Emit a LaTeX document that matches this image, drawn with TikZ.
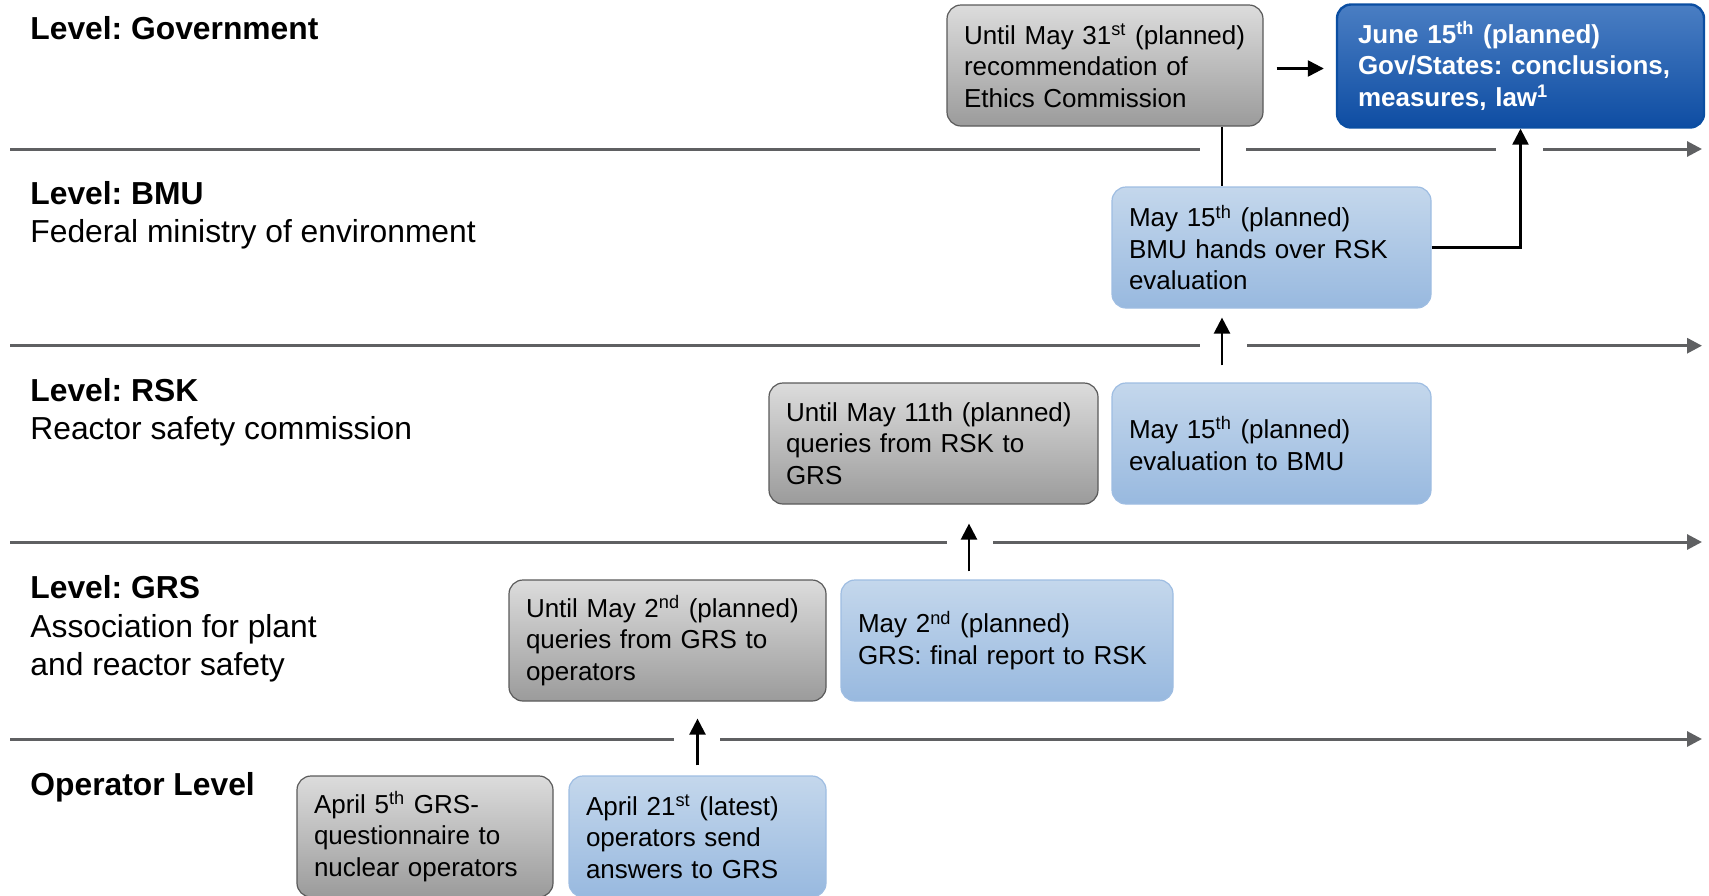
\documentclass[tikz,border=0pt]{standalone}
\usepackage{fontspec}
\setmainfont{Liberation Sans}
\usetikzlibrary{arrows.meta}
\frenchspacing

\definecolor{lineGray}{HTML}{5F6062}
\definecolor{boxGrayTop}{HTML}{DCDCDC}
\definecolor{boxGrayBot}{HTML}{9B9B9B}
\definecolor{boxGrayRim}{HTML}{5A5A5A}
\definecolor{boxBlueTop}{HTML}{C4D7EC}
\definecolor{boxBlueBot}{HTML}{98B9DF}
\definecolor{boxBlueRim}{HTML}{9EBDE2}
\definecolor{govTop}{HTML}{4A7EC3}
\definecolor{govBot}{HTML}{0E4DA3}
\definecolor{govRim}{HTML}{0B4EA2}

\newcommand{\boxfont}{\fontsize{13}{15.8}\selectfont}
\newcommand{\lvlfont}{\fontsize{15.9}{19}\selectfont}
\newcommand{\sfx}[1]{\textsuperscript{#1}}

\tikzset{
  stage/.style={rounded corners=7pt, minimum height=60.5pt, inner xsep=8.5pt, inner ysep=0pt, align=left, font=\boxfont, text=black},
  grayStage/.style={stage, draw=boxGrayRim, line width=0.6pt, top color=boxGrayTop, bottom color=boxGrayBot},
  blueStage/.style={stage, draw=boxBlueRim, line width=0.6pt, top color=boxBlueTop, bottom color=boxBlueBot},
  govStage/.style={stage, draw=govRim, line width=1.2pt, top color=govTop, bottom color=govBot, text=white, font=\boxfont\bfseries, inner xsep=10.5pt},
  lvl/.style={anchor=base west, font=\lvlfont, inner sep=0pt},
  lvlHead/.style={lvl, font=\lvlfont\bfseries},
  timeline/.style={draw=lineGray, line width=1.5pt},
  flow/.style={draw=black, line width=1.2pt, -{Triangle[length=8pt,width=8pt]}}
}

\begin{document}
\begin{tikzpicture}[x=0.5pt,y=-0.5pt]
	%%%%% START %%%%%
	\useasboundingbox (0,0) rectangle (1709,895);
	
	% level separators
	\draw[timeline] (10,149) -- (1200,149);
	\draw[timeline] (1246,149) -- (1496,149);
	\draw[timeline,-{Triangle[length=7.5pt,width=7.5pt]}] (1543,149) -- (1702,149);
	\draw[timeline] (10,345.7) -- (1200,345.7);
	\draw[timeline,-{Triangle[length=7.5pt,width=7.5pt]}] (1247,345.7) -- (1702,345.7);
	\draw[timeline] (10,542) -- (947,542);
	\draw[timeline,-{Triangle[length=7.5pt,width=7.5pt]}] (993,542) -- (1702,542);
	\draw[timeline] (10,739) -- (674,739);
	\draw[timeline,-{Triangle[length=7.5pt,width=7.5pt]}] (720,739) -- (1702,739);
	
	% level names
	\node[lvlHead] (govLbl) at (30,39.3) {Level: Government};
	\node[lvlHead] (bmuLbl) at (30,204) {Level: BMU};
	\node[lvl] (bmuTxt) at (30,242) {Federal ministry of environment};
	\node[lvlHead] (rskLbl) at (30,401.7) {Level: RSK};
	\node[lvl] (rskTxt) at (30,439.3) {Reactor safety commission};
	\node[lvlHead] (grsLbl) at (30,598) {Level: GRS};
	\node[lvl] (grsTxt) at (30,637) {Association for plant};
	\node[lvl] (grsTxtB) at (30,675) {and reactor safety};
	\node[lvlHead] (opLbl) at (30,795) {Operator Level};
	
	% stages
	\node[grayStage, text width=141pt] (ethics) at (1105,65.5) {Until May 31\sfx{st} (planned)\\recommendation of\\Ethics Commission};
	\node[govStage, text width=162.5pt, minimum height=61.5pt] (june) at (1520.5,66) {June 15\sfx{th} (planned)\\Gov/States: conclusions,\\measures, law\sfx{1}};
	\node[blueStage, text width=142.5pt] (bmu) at (1271.5,247.5) {May 15\sfx{th} (planned)\\BMU hands over RSK\\evaluation};
	\node[grayStage, text width=147.5pt] (rskG) at (933.5,443.5) {Until May 11th (planned)\\queries from RSK to\\GRS};
	\node[blueStage, text width=142.5pt] (rskB) at (1271.5,443.5) {May 15\sfx{th} (planned)\\evaluation to BMU};
	\node[grayStage, text width=141.5pt] (grsG) at (667.5,640.5) {Until May 2\sfx{nd} (planned)\\queries from GRS to\\operators};
	\node[blueStage, text width=149pt] (grsB) at (1007,640.5) {May 2\sfx{nd} (planned)\\GRS: final report to RSK};
	\node[grayStage, text width=111pt] (opG) at (425,836.5) {April 5\sfx{th} GRS-\\questionnaire to\\nuclear operators};
	\node[blueStage, text width=111.5pt] (opB) at (697.5,836.5) {April 21\sfx{st} (latest)\\operators send\\answers to GRS};
	
	% connectors
	\coordinate (hopA) at (1222,0);
	\coordinate (hopB) at (969,0);
	\draw[flow, shorten <=6.5pt, shorten >=6pt] ([yshift=-1.5pt]ethics.east) -- ([yshift=-1.5pt]june.west |- ethics.east);
	\draw[line width=1.2pt] (ethics.south -| hopA) -- (bmu.north -| hopA);
	\draw[flow] (bmu.east) -| (june.south);
	\draw[flow, shorten <=8.5pt, shorten >=4.5pt] (rskB.north -| hopA) -- (bmu.south -| hopA);
	\draw[flow, shorten <=4pt, shorten >=9.5pt] (grsB.north -| hopB) -- (rskG.south -| hopB);
	\draw[flow, shorten <=5pt, shorten >=8.5pt] (opB.north) -- (opB.north |- grsG.south);
	
	%%%%% END %%%%%
\end{tikzpicture}
\end{document}
